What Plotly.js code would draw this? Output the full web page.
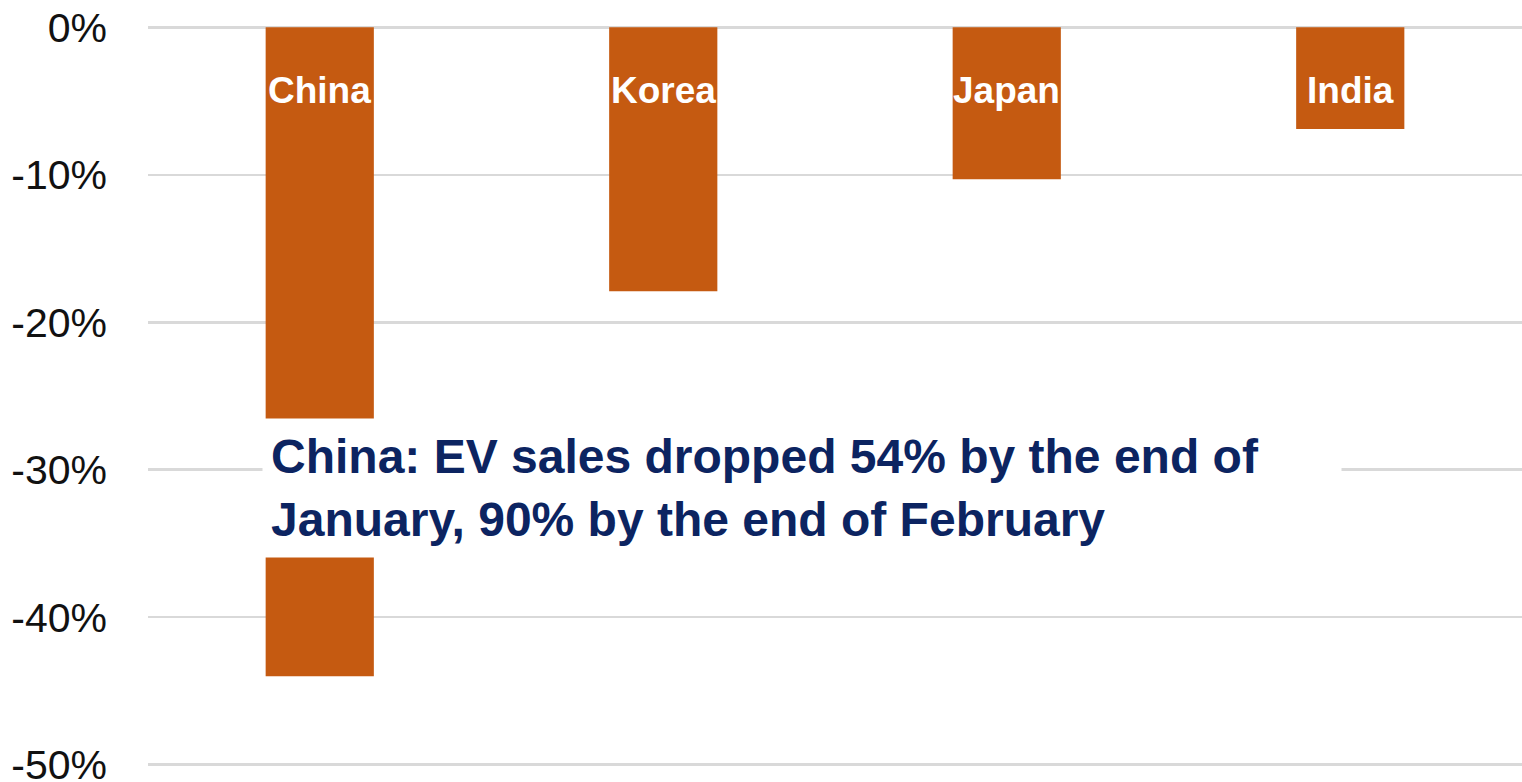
<!DOCTYPE html>
<html>
<head>
<meta charset="utf-8">
<script src="https://cdn.plot.ly/plotly-3.0.1.min.js"></script>
<style>html,body{margin:0;padding:0;background:#fff;}#chart{width:1522px;height:782px;}</style>
</head>
<body>
<div id="chart"></div>
<script>
const countries = ["China", "Korea", "Japan", "India"];
const salesChange = [-44.0, -17.9, -10.3, -6.9];
const tickValues = [0, -10, -20, -30, -40, -50];
const tickLabels = ["0%", "-10%", "-20%", "-30%", "-40%", "-50%"];
const noteText = "China: EV sales dropped 54% by the end of<br>January, 90% by the end of February";

const labelAnnotations = countries.map(c => ({
  x: c, y: 0, xref: "x", yref: "y",
  yanchor: "middle", yshift: -63,
  text: c, showarrow: false,
  font: {family: "Liberation Sans, Arial", size: 37, color: "#ffffff", weight: "bold"}
}));

const trace = {
  type: "bar",
  x: countries,
  y: salesChange,
  width: 0.315,
  marker: {color: "#C55A11"},
  hoverinfo: "skip"
};

const layout = {
  width: 1522, height: 782,
  margin: {l: 148, r: 0, t: 20, b: 10, pad: 0},
  paper_bgcolor: "#ffffff", plot_bgcolor: "#ffffff",
  showlegend: false,
  xaxis: {type: "category", range: [-0.5, 3.5], showticklabels: false, showgrid: false, zeroline: false, showline: false, ticks: ""},
  yaxis: {
    range: [-50.5, 0.5], tickvals: tickValues, ticktext: tickLabels,
    showgrid: true, gridcolor: "#d9d9d9", gridwidth: 2.5,
    zeroline: false, showline: false, ticks: "",
    ticklabelstandoff: 40, ticklabeloverflow: "allow",
    tickfont: {family: "Liberation Sans, Arial", size: 41, color: "#111111"}
  },
  annotations: labelAnnotations.concat([{
    xref: "paper", yref: "y", x: (262 - 148) / 1374, y: -26.5,
    xanchor: "left", yanchor: "top",
    text: noteText, showarrow: false, align: "left",
    bgcolor: "#ffffff", borderpad: 8, width: 1062, height: 122, valign: "middle",
    font: {family: "Liberation Sans, Arial", size: 48, color: "#0c2461", weight: "bold"}
  }])
};

Plotly.newPlot("chart", [trace], layout, {staticPlot: true, displayModeBar: false});
</script>
</body>
</html>
